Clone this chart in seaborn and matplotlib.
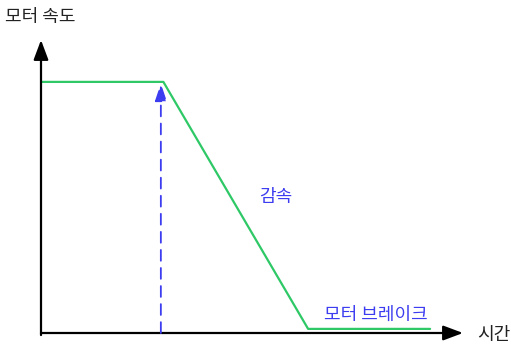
import numpy as np
import pandas as pd
import matplotlib.pyplot as plt
import seaborn as sns

# 데이터: 모터 속도 (시간에 따라)
time = [0.0, 2.9, 6.33, 9.22]
speed = [8.57, 8.57, 0.14, 0.14]
brake_time = 2.84

labels = {'y': '모터 속도', 'x': '시간', 'decel': '감속', 'brake': '모터 브레이크'}

sns.set_style('white')
plt.rcParams['font.family'] = ['Noto Sans CJK KR', 'DejaVu Sans']

green = '#2ec866'
blue = '#3c3cf0'

fig = plt.figure(figsize=(5.11, 3.52), dpi=100)
ax = fig.add_axes([41 / 511, 19 / 352, 422 / 511, 293 / 352])

df = pd.DataFrame({'time': time, 'speed': speed})
sns.lineplot(data=df, x='time', y='speed', ax=ax, color=green, linewidth=1.6,
             sort=False, estimator=None)

ax.set_xlim(0, 10)
ax.set_ylim(0, 10)
for s in ax.spines.values():
    s.set_visible(False)
ax.set_xticks([])
ax.set_yticks([])
ax.set_xlabel('')
ax.set_ylabel('')

# 축 화살표
axis_arrow = dict(arrowstyle='-|>,head_width=0.3,head_length=0.8',
                  color='black', lw=1.6, mutation_scale=15, shrinkA=0, shrinkB=0)
ax.annotate('', xy=(0, 1), xytext=(0, -0.007), xycoords='axes fraction',
            arrowprops=axis_arrow, annotation_clip=False)
ax.annotate('', xy=(1, 0), xytext=(0, 0), xycoords='axes fraction',
            arrowprops=axis_arrow, annotation_clip=False)

# 파란 점선 화살표
ax.annotate('', xy=(brake_time, speed[1] - 0.05), xytext=(brake_time, 0),
            arrowprops=dict(arrowstyle='-|>,head_width=0.3,head_length=0.9',
                            color=blue, lw=1.3, linestyle=(0, (6, 4)),
                            mutation_scale=12, shrinkA=0, shrinkB=0),
            annotation_clip=False)

ax.text(-0.85, 10.78, labels['y'], fontsize=13, color='#222222',
        ha='left', va='center', clip_on=False)
ax.text(10.33, -0.07, labels['x'], fontsize=13, color='#222222',
        ha='left', va='center', clip_on=False)
ax.text(5.57, 4.64, labels['decel'], fontsize=13, color=blue,
        ha='center', va='center')
ax.text(7.94, 0.61, labels['brake'], fontsize=13, color=blue,
        ha='center', va='center')

fig.savefig('out.png', dpi=100, facecolor='white')
